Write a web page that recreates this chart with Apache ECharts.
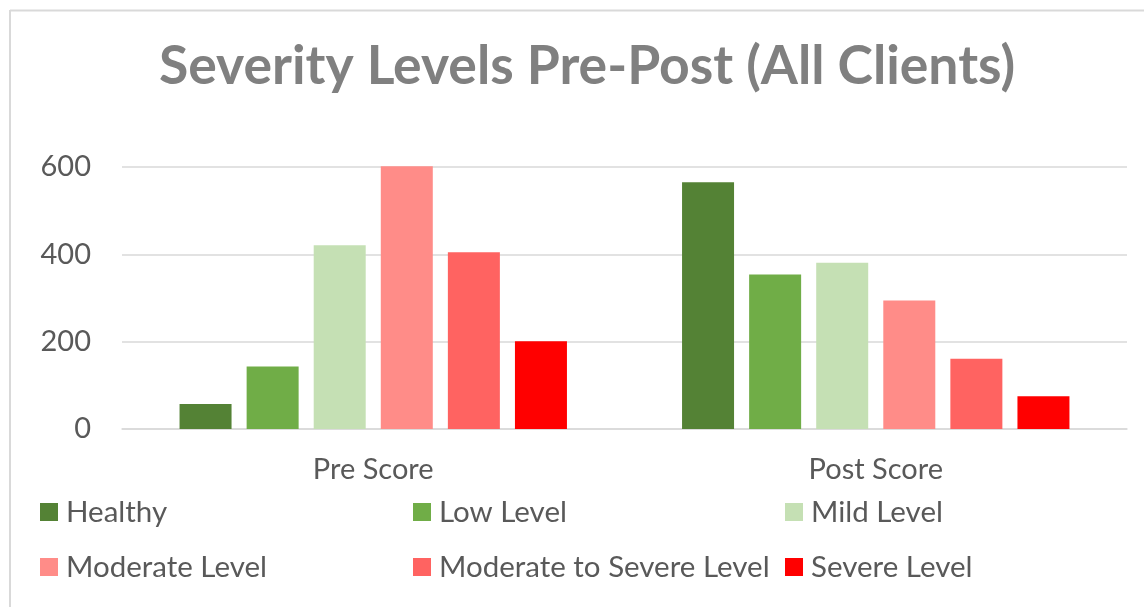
<!DOCTYPE html>
<html>
<head>
<meta charset="utf-8">
<script src="https://cdn.jsdelivr.net/npm/echarts@6/dist/echarts.min.js"></script>
<style>html,body{margin:0;padding:0;background:#fff}#c{width:1144px;height:607px}</style>
</head>
<body>
<div id="c"></div>
<script>
const categories = ['Pre Score', 'Post Score'];
const seriesNames = ['Healthy', 'Low Level', 'Mild Level', 'Moderate Level', 'Moderate to Severe Level', 'Severe Level'];
const healthy = [57, 565];
const lowLevel = [143, 354];
const mildLevel = [421, 381];
const moderateLevel = [602, 294];
const modToSevere = [405, 161];
const severeLevel = [201, 75];
const yTicks = [0, 200, 400, 600];
const colors = ['#548235', '#70AD47', '#C5E0B4', '#FF8C88', '#FF6361', '#FF0000'];

const values = [healthy, lowLevel, mildLevel, moderateLevel, modToSevere, severeLevel];
const FONT = 'Lato';
const chart = echarts.init(document.getElementById('c'));
const legendPos = [[40, 497], [413, 497], [785, 497], [40, 552], [413, 552], [785, 552]];

chart.setOption({
  animation: false,
  backgroundColor: '#ffffff',
  title: {
    text: 'Severity Levels Pre-Post (All Clients)',
    left: 582, top: 35, textAlign: 'center',
    textStyle: { fontFamily: FONT, fontWeight: 'bold', fontSize: 53.5, color: '#808080' }
  },
  graphic: [
    { type: 'line', shape: { x1: 10, y1: 10.5, x2: 1144, y2: 10.5 }, style: { stroke: '#d9d9d9', lineWidth: 2 } },
    { type: 'line', shape: { x1: 10, y1: 10, x2: 10, y2: 607 }, style: { stroke: '#d9d9d9', lineWidth: 2 } }
  ],
  legend: seriesNames.map((n, i) => ({
    data: [n], left: legendPos[i][0], top: legendPos[i][1], padding: 0,
    icon: 'rect', itemWidth: 18, itemHeight: 18,
    textStyle: { fontFamily: FONT, fontSize: 29.5, color: '#595959', padding: [0, 0, 0, 3] }
  })),
  grid: { left: 122, right: 17, top: 167, height: 262 },
  xAxis: {
    type: 'category', data: categories,
    axisLine: { lineStyle: { color: '#d9d9d9', width: 1.5 } },
    axisTick: { show: false },
    axisLabel: { fontFamily: FONT, fontSize: 29, color: '#595959', margin: 26 }
  },
  yAxis: {
    type: 'value', min: 0, max: yTicks[yTicks.length - 1], interval: 200,
    axisLine: { show: false }, axisTick: { show: false },
    axisLabel: { fontFamily: FONT, fontSize: 29, color: '#595959', margin: 31 },
    splitLine: { lineStyle: { color: '#d9d9d9', width: 1.5 } }
  },
  series: seriesNames.map((n, i) => ({
    name: n, type: 'bar', data: values[i], clip: false,
    barWidth: 52, barGap: '29%',
    itemStyle: { color: colors[i] }
  }))
});
</script>
</body>
</html>
